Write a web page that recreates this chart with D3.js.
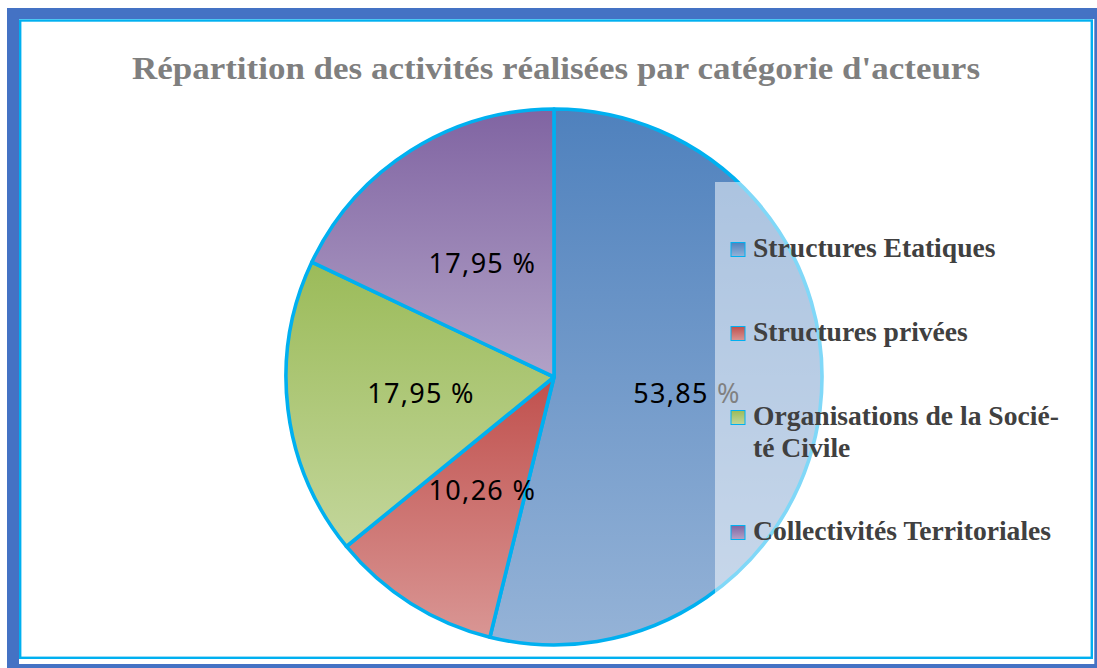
<!DOCTYPE html>
<html>
<head>
<meta charset="utf-8">
<script src="https://cdn.jsdelivr.net/npm/d3@7"></script>
<style>
    body { margin: 0; background: #fff; }
</style>
</head>
<body>
<script>
// data
var title = "Répartition des activités réalisées par catégorie d'acteurs";
var categories = ["Structures Etatiques", "Structures privées", "Organisations de la Société Civile", "Collectivités Territoriales"];
// legend wraps the third name with a hyphen, as in the original
var legendLines = [["Structures Etatiques"], ["Structures privées"], ["Organisations de la Socié-", "té Civile"], ["Collectivités Territoriales"]];
var values = [53.85, 10.26, 17.95, 17.95];
var colorTop = ["#4f81bd", "#c0504d", "#9bbb59", "#8064a2"];
var colorBottom = ["#95b3d7", "#d99694", "#c3d69b", "#b2a2c7"];

var W = 1097, H = 668;
var svg = d3.select("body").append("svg")
    .attr("width", W)
    .attr("height", H);

// frame: blue outer, white inner, cyan line
svg.append("rect").attr("x", 7).attr("y", 8).attr("width", W - 7).attr("height", H - 8).attr("fill", "#4472c4");
svg.append("rect").attr("x", 19).attr("y", 19).attr("width", 1075.3).attr("height", 645).attr("fill", "#fff");
svg.append("rect").attr("x", 20.2).attr("y", 20.5).attr("width", 1071.6).attr("height", 637.3)
    .attr("fill", "none").attr("stroke", "#00b0f0").attr("stroke-width", 2.4);

// title (original font is wider than Times, so stretch it)
svg.append("text")
    .attr("x", 556)
    .attr("y", 79)
    .attr("text-anchor", "middle")
    .attr("font-family", "'Liberation Serif', serif")
    .attr("font-weight", "bold")
    .attr("font-size", 31)
    .attr("textLength", 848)
    .attr("lengthAdjust", "spacingAndGlyphs")
    .attr("fill", "#7f7f7f")
    .text(title);

// gradients, one per slice
var defs = svg.append("defs");
values.forEach(function (v, i) {
    var g = defs.append("linearGradient")
        .attr("id", "grad" + i)
        .attr("x1", 0).attr("y1", 0).attr("x2", 0).attr("y2", 1);
    g.append("stop").attr("offset", "0%").attr("stop-color", colorTop[i]);
    g.append("stop").attr("offset", "100%").attr("stop-color", colorBottom[i]);
});

// pie
var cx = 554, cy = 377, radius = 268;
var pie = d3.pie().sort(null).value(function (d) { return d; });
var arcs = pie(values);
var arc = d3.arc().innerRadius(0).outerRadius(radius);
var labelArc = d3.arc().innerRadius(radius * 0.5).outerRadius(radius * 0.5);

var pieG = svg.append("g").attr("transform", "translate(" + cx + "," + cy + ")");
pieG.selectAll("path.slice")
    .data(arcs)
    .enter().append("path")
    .attr("class", "slice")
    .attr("d", arc)
    .attr("fill", function (d, i) { return "url(#grad" + i + ")"; })
    .attr("stroke", "#00b0f0")
    .attr("stroke-width", 3.6)
    .attr("stroke-linejoin", "round");

var fr = d3.formatLocale({ decimal: ",", thousands: " ", grouping: [3], currency: ["", " €"] });
var fmt = fr.format(".2f");

pieG.selectAll("text.lbl")
    .data(arcs)
    .enter().append("text")
    .attr("class", "lbl")
    .attr("transform", function (d) { return "translate(" + labelArc.centroid(d) + ")"; })
    .attr("text-anchor", "middle")
    .attr("dy", "0.36em")
    .attr("font-family", "'Noto Sans', sans-serif")
    .attr("font-size", 27)
    .attr("letter-spacing", 1.3)
    .attr("fill", "#000")
    .text(function (d) { return fmt(d.value) + " %"; });

// legend box sits on top of the pie, half transparent
svg.append("rect")
    .attr("x", 715).attr("y", 182)
    .attr("width", 370).attr("height", 440)
    .attr("fill", "#fff")
    .attr("fill-opacity", 0.5);

var legend = svg.append("g").attr("class", "legend");
var ly = 257;
legendLines.forEach(function (lines, i) {
    legend.append("rect")
        .attr("x", 731).attr("y", ly - 14.5)
        .attr("width", 14).attr("height", 14)
        .attr("fill", "url(#grad" + i + ")")
        .attr("stroke", "#00b0f0")
        .attr("stroke-width", 1);
    var t = legend.append("text")
        .attr("x", 753).attr("y", ly)
        .attr("font-family", "'Liberation Serif', serif")
        .attr("font-weight", "bold")
        .attr("font-size", 27.6)
        .attr("fill", "#404040");
    lines.forEach(function (line, k) {
        t.append("tspan").attr("x", 753).attr("y", ly + k * 32).text(line);
    });
    ly += 84 + (lines.length - 1) * 31;
});
</script>
</body>
</html>
